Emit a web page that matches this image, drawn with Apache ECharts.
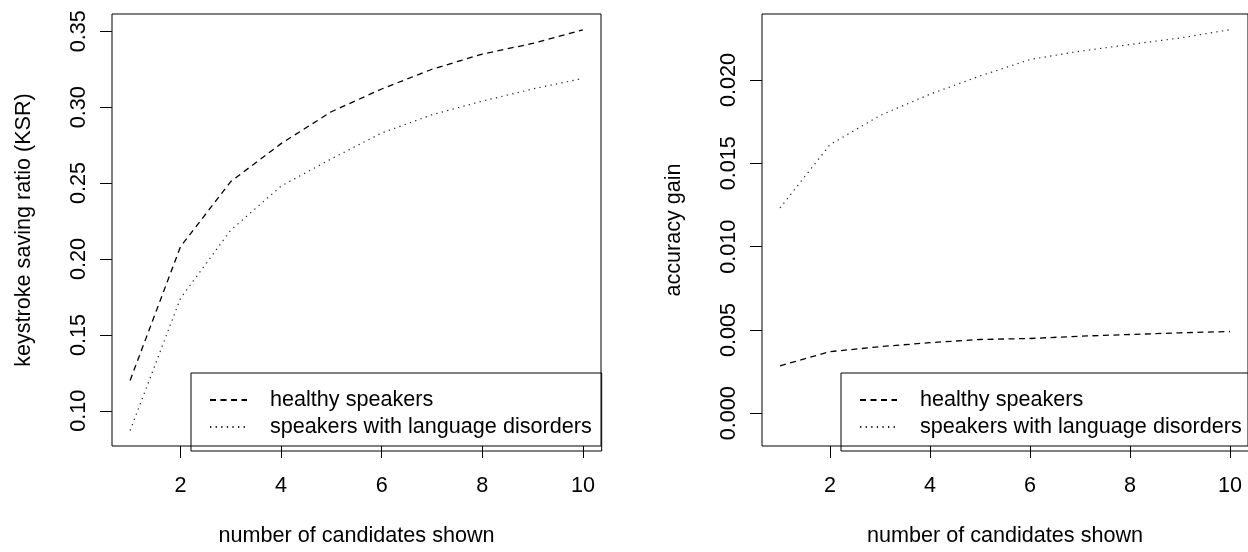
<!DOCTYPE html>
<html>
<head>
<meta charset="utf-8">
<script src="https://cdn.jsdelivr.net/npm/echarts@6/dist/echarts.min.js"></script>
<style>
html,body{margin:0;padding:0;background:#fff;}
#chart{width:1248px;height:552px;}
</style>
</head>
<body>
<div id="chart"></div>
<script>
const candidates = [1, 2, 3, 4, 5, 6, 7, 8, 9, 10];
const ksrHealthy = [0.120, 0.208, 0.251, 0.276, 0.297, 0.312, 0.325, 0.335, 0.342, 0.351];
const ksrDisorder = [0.087, 0.174, 0.219, 0.248, 0.266, 0.283, 0.295, 0.304, 0.312, 0.319];
const gainHealthy = [0.00285, 0.0037, 0.0040, 0.00424, 0.00443, 0.00449, 0.00463, 0.00473, 0.00483, 0.00491];
const gainDisorder = [0.01232, 0.01612, 0.01787, 0.01915, 0.02024, 0.02123, 0.02173, 0.02213, 0.02252, 0.02302];
const xTicks = [2, 4, 6, 8, 10];
const ksrTicks = [0.10, 0.15, 0.20, 0.25, 0.30, 0.35];
const gainTicks = [0, 0.005, 0.010, 0.015, 0.020];
const names = ['healthy speakers', 'speakers with language disorders'];

const FONT = '"Liberation Sans", Arial, Helvetica, sans-serif';
const FS = 21.6;
const text = {color: '#000', fontFamily: FONT, fontSize: FS};

function pairs(ys){
  return candidates.map((x, i) => [x, ys[i]]);
}

function xAxisOf(gridIndex){
  return {
    gridIndex, type: 'value', min: 0.64, max: 10.36,
    name: 'number of candidates shown', nameLocation: 'middle', nameGap: 79,
    nameTextStyle: text,
    axisLine: {show: false, onZero: false},
    splitLine: {show: false},
    axisTick: {show: true, customValues: xTicks, length: 12, lineStyle: {color: '#000', width: 1}},
    axisLabel: Object.assign({customValues: xTicks, margin: 29}, text)
  };
}

function yAxisOf(gridIndex, name, ticks, min, max, digits){
  return {
    gridIndex, type: 'value', min, max,
    name, nameLocation: 'middle', nameGap: 77, nameRotate: 90,
    nameTextStyle: text,
    axisLine: {show: false, onZero: false},
    splitLine: {show: false},
    axisTick: {show: true, customValues: ticks, length: 12, lineStyle: {color: '#000', width: 1}},
    axisLabel: Object.assign({
      customValues: ticks, margin: 22, rotate: 90,
      formatter: v => v.toFixed(digits)
    }, text)
  };
}

// legend samples: keep the dash pattern, hide the symbol echarts adds
function legendOf(left){
  return {
    orient: 'vertical', left, top: 373,
    padding: [16, 10, 13, 18], itemGap: 5, itemWidth: 37, itemHeight: 14,
    borderColor: '#000', borderWidth: 1, borderRadius: 0,
    selectedMode: false,
    itemStyle: {color: 'rgba(0,0,0,0)', borderColor: 'rgba(0,0,0,0)', borderWidth: 0},
    textStyle: Object.assign({lineHeight: 22, padding: [0, 0, 0, 18]}, text),
    data: names
  };
}

const dashed = {color: '#000', width: 1.3, type: [6, 4.5]};
const dotted = {color: '#222', width: 1.2, type: [1.3, 4.3]};

function lineOf(name, ys, idx, style){
  return {
    name, type: 'line', data: pairs(ys),
    xAxisIndex: idx, yAxisIndex: idx,
    symbol: 'none', showSymbol: false,
    itemStyle: {color: '#000'}, lineStyle: style,
    silent: true, animation: false
  };
}

const chart = echarts.init(document.getElementById('chart'), null, {renderer: 'canvas'});
chart.setOption({
  backgroundColor: '#fff',
  animation: false,
  grid: [
    {left: 112, top: 14, width: 489, height: 437, show: true, borderColor: '#000', borderWidth: 1, backgroundColor: 'transparent'},
    {left: 762, top: 14, width: 489, height: 437, show: true, borderColor: '#000', borderWidth: 1, backgroundColor: 'transparent'}
  ],
  xAxis: [xAxisOf(0), xAxisOf(1)],
  yAxis: [
    yAxisOf(0, 'keystroke saving ratio (KSR)', ksrTicks, 0.0768, 0.3614, 2),
    yAxisOf(1, 'accuracy gain', gainTicks, -0.00196, 0.02396, 3)
  ],
  legend: [legendOf(191), legendOf(841)],
  series: [
    lineOf(names[0], ksrHealthy, 0, dashed),
    lineOf(names[1], ksrDisorder, 0, dotted),
    lineOf(names[0], gainHealthy, 1, dashed),
    lineOf(names[1], gainDisorder, 1, dotted)
  ]
});
</script>
</body>
</html>
